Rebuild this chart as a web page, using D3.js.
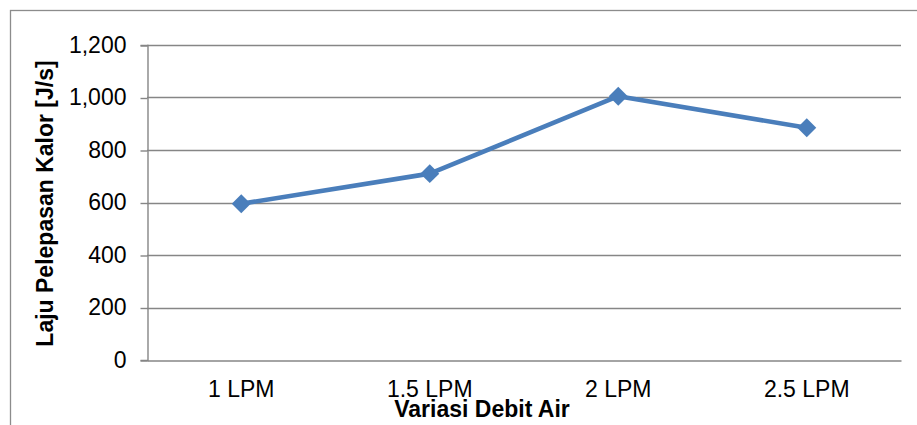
<!DOCTYPE html>
<html>
<head>
<meta charset="utf-8">
<script src="https://cdn.jsdelivr.net/npm/d3@7"></script>
<style>
  html, body { margin: 0; padding: 0; background: #fff; }
  svg { display: block; font-family: "Liberation Sans", Arial, sans-serif; }
</style>
</head>
<body>
<svg id="chart" width="917" height="425"></svg>
<script>
// Heat release rate for each water flow rate
const categories = ["1 LPM", "1.5 LPM", "2 LPM", "2.5 LPM"];
const values = [595, 710, 1005, 885];
const yTicks = [0, 200, 400, 600, 800, 1000, 1200];
const yTitle = "Laju Pelepasan Kalor [J/s]";
const xTitle = "Variasi Debit Air";

const svg = d3.select("#chart");
const W = 917, H = 425;
const plot = { left: 147, right: 901, top: 45, bottom: 360 };
const gridColor = "#868686";
const seriesColor = "#4a7ebb";

// outer chart frame (extends past the right and bottom edges)
svg.append("rect")
  .attr("x", 10.5).attr("y", 10.5)
  .attr("width", W + 20).attr("height", H + 20)
  .attr("fill", "#fff")
  .attr("stroke", "#8c8c8c").attr("stroke-width", 1.3);

const x = d3.scaleBand().domain(categories)
  .range([plot.left, plot.right]).paddingInner(0).paddingOuter(0);
const y = d3.scaleLinear().domain([0, 1200]).range([plot.bottom, plot.top]);

// horizontal gridlines
svg.append("g").selectAll("line").data(yTicks.filter(d => d > 0)).join("line")
  .attr("x1", plot.left).attr("x2", plot.right)
  .attr("y1", d => Math.round(y(d)) + 0.5).attr("y2", d => Math.round(y(d)) + 0.5)
  .attr("stroke", gridColor).attr("stroke-width", 1.4);

// y axis
const yAxis = svg.append("g")
  .attr("transform", `translate(${plot.left + 0.5},0)`)
  .call(d3.axisLeft(y).tickValues(yTicks).tickSize(7).tickPadding(14)
    .tickFormat(d3.format(",")));
yAxis.select(".domain").attr("stroke", gridColor).attr("stroke-width", 1.4);
yAxis.selectAll(".tick line").attr("stroke", gridColor).attr("stroke-width", 1.4)
  .attr("transform", "translate(0,0.5)");
yAxis.selectAll(".tick text")
  .attr("font-size", 23).attr("fill", "#000")
  .attr("font-family", "'Liberation Sans', Arial, sans-serif");

// x axis
const xAxis = svg.append("g")
  .attr("transform", `translate(0,${plot.bottom + 0.5})`)
  .call(d3.axisBottom(x).tickSize(0).tickPadding(20));
xAxis.select(".domain").attr("stroke", gridColor).attr("stroke-width", 1.4);
xAxis.selectAll(".tick text")
  .attr("font-size", 23).attr("fill", "#000")
  .attr("font-family", "'Liberation Sans', Arial, sans-serif");

// axis titles
svg.append("text")
  .attr("transform", `translate(53,${(55 + 352) / 2}) rotate(-90)`)
  .attr("text-anchor", "middle")
  .attr("font-size", 23).attr("font-weight", "bold").attr("fill", "#000")
  .text(yTitle);

svg.append("text")
  .attr("x", 482).attr("y", 417)
  .attr("text-anchor", "middle")
  .attr("font-size", 23).attr("font-weight", "bold").attr("fill", "#000")
  .text(xTitle);

// series line and diamond markers
const cx = d => x(d) + x.bandwidth() / 2;
const line = d3.line().x((d, i) => cx(categories[i])).y(d => y(d));
svg.append("path").datum(values)
  .attr("d", line)
  .attr("fill", "none").attr("stroke", seriesColor)
  .attr("stroke-width", 4.6).attr("stroke-linejoin", "round");

const diamond = d3.symbol().type(d3.symbolSquare).size(180);
svg.append("g").selectAll("path").data(values).join("path")
  .attr("d", diamond)
  .attr("transform", (d, i) => `translate(${cx(categories[i])},${y(d)}) rotate(45)`)
  .attr("fill", seriesColor);
</script>
</body>
</html>
